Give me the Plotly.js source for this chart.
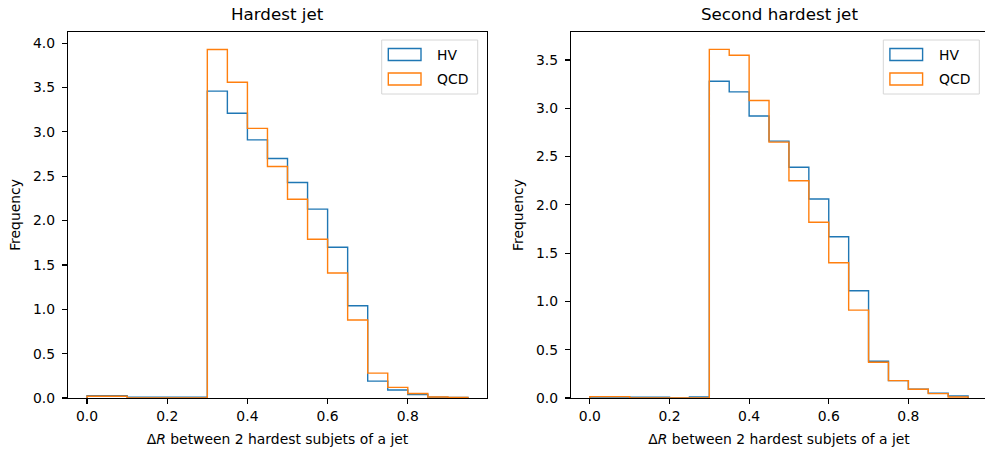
<!DOCTYPE html>
<html>
<head>
<meta charset="utf-8">
<script src="https://cdn.plot.ly/plotly-3.0.1.min.js"></script>
<style>
html, body { margin: 0; padding: 0; overflow: hidden; background: #fff; }
#chart { width: 990px; height: 454px; }
</style>
</head>
<body>
<div id="chart"></div>
<script>
// Bin edges (20 edges -> 19 bins of width 0.05)
const binEdges = [0.0, 0.05, 0.1, 0.15, 0.2, 0.25, 0.3, 0.35, 0.4, 0.45, 0.5,
                  0.55, 0.6, 0.65, 0.7, 0.75, 0.8, 0.85, 0.9, 0.95];

// Hardest jet (density)
const hardestHV  = [0.025, 0.025, 0.01, 0.01, 0.01, 0.01, 3.46, 3.21, 2.91, 2.70, 2.43,
                    2.13, 1.70, 1.04, 0.19, 0.09, 0.04, 0.01, 0.005];
const hardestQCD = [0.02, 0.02, 0.0, 0.0, 0.0, 0.0, 3.93, 3.56, 3.04, 2.61, 2.24,
                    1.79, 1.41, 0.88, 0.28, 0.12, 0.05, 0.012, 0.006];

// Second hardest jet (density)
const secondHV   = [0.01, 0.01, 0.008, 0.008, 0.0, 0.01, 3.28, 3.17, 2.92, 2.66, 2.39,
                    2.06, 1.67, 1.11, 0.38, 0.18, 0.09, 0.05, 0.02];
const secondQCD  = [0.014, 0.014, 0.0, 0.0, 0.0, 0.0, 3.61, 3.55, 3.08, 2.65, 2.25,
                    1.82, 1.40, 0.91, 0.37, 0.18, 0.09, 0.045, 0.01];

const seriesNames = ["HV", "QCD"];
const subplotTitles = ["Hardest jet", "Second hardest jet"];
const xLabel = "Δ<i>R</i> between 2 hardest subjets of a jet";
const yLabel = "Frequency";

const BLUE = "#1f77b4", ORANGE = "#ff7f0e";
const COLORS = [BLUE, ORANGE];
const FONT = "DejaVu Sans, sans-serif";

function stepTrace(values, name, color, xa, ya) {
  const xs = [binEdges[0]].concat(binEdges);
  const ys = [0].concat(values).concat([0]);
  return {
    type: "scatter", mode: "lines", x: xs, y: ys, name: name,
    line: { color: color, width: 1.4, shape: "hv" },
    xaxis: xa, yaxis: ya, showlegend: false, hoverinfo: "skip"
  };
}

const traces = [
  stepTrace(hardestHV,  seriesNames[0], BLUE,   "x",  "y"),
  stepTrace(hardestQCD, seriesNames[1], ORANGE, "x",  "y"),
  stepTrace(secondHV,   seriesNames[0], BLUE,   "x2", "y2"),
  stepTrace(secondQCD,  seriesNames[1], ORANGE, "x2", "y2")
];

const tickFont = { family: FONT, size: 13.9, color: "#000" };
function xAxis(domain, anchor) {
  return {
    domain: domain, anchor: anchor, range: [-0.0475, 0.9975],
    tick0: 0, dtick: 0.2, tickformat: ".1f",
    ticks: "outside", ticklen: 5, tickwidth: 1.1, tickcolor: "#000",
    showline: true, mirror: true, linecolor: "#000", linewidth: 1.1,
    showgrid: false, zeroline: false, tickfont: tickFont,
    title: { text: xLabel, font: { family: FONT, size: 13.9, color: "#000" }, standoff: 11 }
  };
}
function yAxis(top, anchor) {
  return {
    domain: [0, 1], anchor: anchor, range: [0, top],
    tick0: 0, dtick: 0.5, tickformat: ".1f",
    ticks: "outside", ticklen: 5, tickwidth: 1.1, tickcolor: "#000",
    ticklabelstandoff: 4,
    showline: true, mirror: true, linecolor: "#000", linewidth: 1.1,
    showgrid: false, zeroline: false, tickfont: tickFont,
    title: { text: yLabel, font: { family: FONT, size: 13.9, color: "#000" }, standoff: 9 }
  };
}

// Figure geometry (pixels) for converting legend placement into paper coords
const PL = 68, PW = 919, PB = 398, PH = 366;
const px = (v) => (v - PL) / PW;
const py = (v) => (PB - v) / PH;

const shapes = [];
const annotations = [
  { text: subplotTitles[0], xref: "paper", yref: "paper", x: 0.228, y: 1, yshift: 6,
    xanchor: "center", yanchor: "bottom", showarrow: false,
    font: { family: FONT, size: 16.7, color: "#000" } },
  { text: subplotTitles[1], xref: "paper", yref: "paper", x: 0.7737, y: 1, yshift: 6,
    xanchor: "center", yanchor: "bottom", showarrow: false,
    font: { family: FONT, size: 16.7, color: "#000" } }
];

// Matplotlib-style legends (outlined patch handles) in each subplot
[381.7, 883.3].forEach((bx) => {
  shapes.push({ type: "rect", xref: "paper", yref: "paper",
    x0: px(bx), x1: px(bx + 96), y0: py(94), y1: py(40),
    line: { color: "#d6d6d6", width: 1 }, fillcolor: "rgba(255,255,255,0.8)", layer: "above" });
  const rows = [[48.5, 60.5, 54.5], [73, 85, 79]];
  seriesNames.forEach((nm, i) => {
    const r = rows[i];
    shapes.push({ type: "rect", xref: "paper", yref: "paper",
      x0: px(bx + 6.6), x1: px(bx + 39.3), y0: py(r[1]), y1: py(r[0]),
      line: { color: COLORS[i], width: 1.4 }, fillcolor: "rgba(0,0,0,0)", layer: "above" });
    annotations.push({ text: nm, xref: "paper", yref: "paper",
      x: px(bx + 53.5), y: py(r[2]), xanchor: "left", yanchor: "middle", showarrow: false,
      font: { family: FONT, size: 13.9, color: "#000" } });
  });
});

const layout = {
  width: 990, height: 454,
  margin: { l: 68, r: 3, t: 32, b: 56 },
  paper_bgcolor: "#fff", plot_bgcolor: "#fff",
  showlegend: false,
  xaxis: xAxis([0, 0.4559], "y"),
  yaxis: yAxis(4.1265, "x"),
  xaxis2: xAxis([0.5473, 1], "y2"),
  yaxis2: yAxis(3.79, "x2"),
  shapes: shapes,
  annotations: annotations
};

Plotly.newPlot("chart", traces, layout, { staticPlot: true, displayModeBar: false });
</script>
</body>
</html>
